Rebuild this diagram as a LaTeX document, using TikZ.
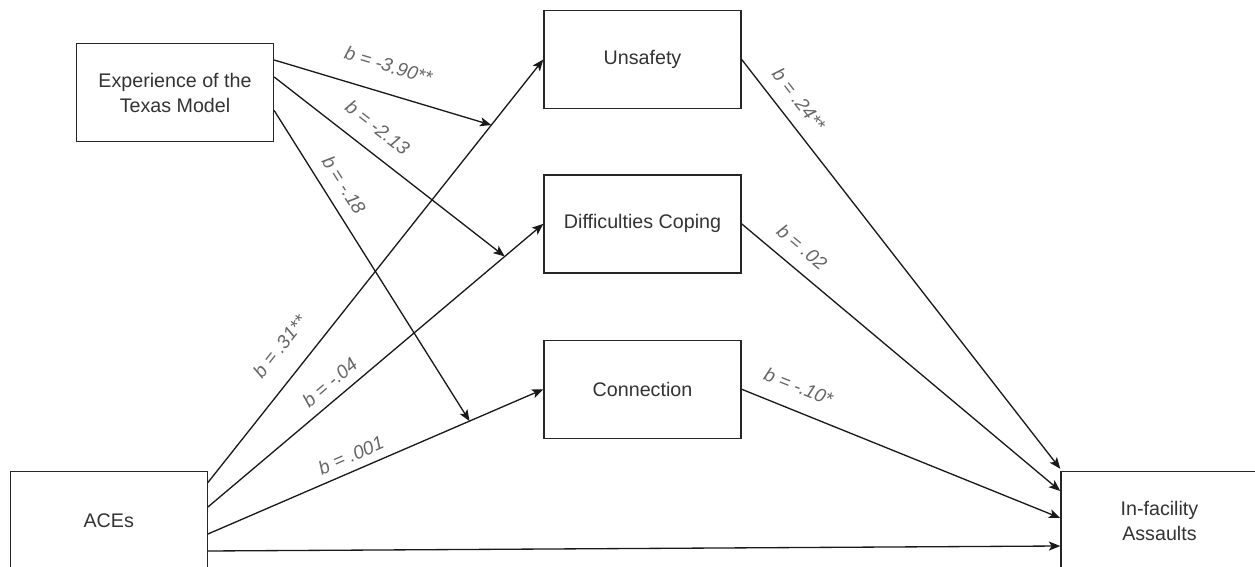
\documentclass[tikz,border=0pt]{standalone}
\usepackage{fontspec}
\setmainfont{Liberation Sans}
\usetikzlibrary{arrows.meta,positioning,calc}

\begin{document}
\begin{tikzpicture}[x=0.02cm,y=-0.02cm,
  box/.style={draw=black!85,line width=0.8pt,minimum width=3.94cm,minimum height=1.96cm,
    align=center,text=black!80,font=\fontsize{11.2}{14.2}\selectfont},
  coef/.style={font=\fontsize{10.8}{13}\selectfont\itshape,text=black!60,sloped,inner sep=0pt},
  arr/.style={-{Stealth[length=6.5pt,width=5.2pt,inset=1.6pt]},line width=0.75pt,black!90}]
  \useasboundingbox (0,0) rectangle (1255,567);
  \clip (0,0) rectangle (1255,567);
  \node[box] (texas) at (175,92.5) {Experience of the\\Texas Model};
  \node[box] (unsafe) at (642.5,59.5) {Unsafety};
  \node[box,below=1.3cm of unsafe] (coping) {Difficulties Coping};
  \node[box,below=1.32cm of coping] (conn) {Connection};
  \node[box] (aces) at (108.75,520.5) {ACEs};
  \node[box,right=17.05cm of aces] (assault) {In-facility\\Assaults};
  % a paths
  \draw[arr] ($(aces.east)+(0,-38)$) -- coordinate[pos=0.845] (mU)
    node[coef,pos=0.28,above=11.8pt] {b = .31**} (unsafe.west);
  \draw[arr] ($(aces.east)+(0,-13.5)$) -- coordinate[pos=0.885] (mD)
    node[coef,pos=0.395,above=5.1pt] {b = -.04} (coping.west);
  \draw[arr] ($(aces.east)+(0,13.5)$) -- coordinate[pos=0.78] (mC)
    node[coef,pos=0.445,above=4.6pt] {b = .001} (conn.west);
  \draw[arr] ($(aces.east)+(0,30.5)$) -- ($(assault.west)+(0,25.5)$);
  % b paths
  \draw[arr] (unsafe.east) -- node[coef,pos=0.129,above=7.4pt] {b = .24**}
    ($(assault.north west)+(0,-2)$);
  \draw[arr] (coping.east) -- node[coef,pos=0.147,above=7.7pt] {b = .02}
    ($(assault.west)+(0,-29.5)$);
  \draw[arr] (conn.east) -- node[coef,pos=0.151,above=9.1pt] {b = -.10*}
    ($(assault.west)+(0,-2.5)$);
  % moderation
  \draw[arr] ($(texas.east)+(0,-32.5)$) -- node[coef,pos=0.49,above=11.4pt] {b = -3.90**} (mU);
  \draw[arr] ($(texas.east)+(0,-15.5)$) -- node[coef,pos=0.386,above=9.1pt] {b = -2.13} (mD);
  \draw[arr] ($(texas.east)+(0,18)$) -- node[coef,pos=0.273,above=6.8pt] {b = -.18} (mC);
\end{tikzpicture}
\end{document}
